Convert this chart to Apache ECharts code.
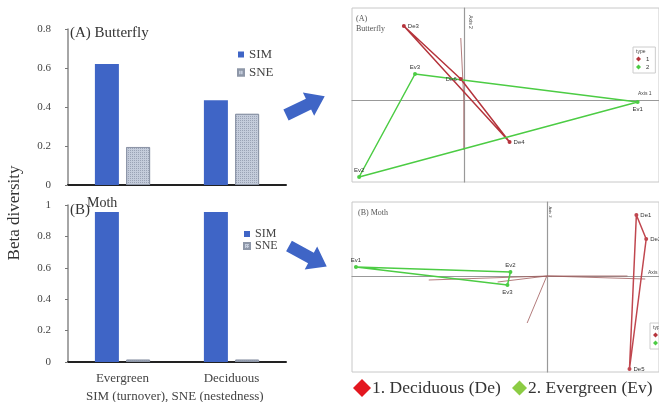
<!DOCTYPE html>
<html>
<head>
<meta charset="utf-8">
<script src="https://cdn.jsdelivr.net/npm/echarts@6/dist/echarts.min.js"></script>
<style>
  html, body { margin: 0; padding: 0; background: #fff; }
  #main { width: 659px; height: 402px; }
</style>
</head>
<body>
<div id="main"></div>
<script>
// bar data
var barCats = ['Evergreen', 'Deciduous'];
var butterflySIM = [0.62, 0.435];
var butterflySNE = [0.195, 0.365];
var mothSIM = [0.955, 0.955];
var mothSNE = [0.015, 0.015];

// ordination scores [name, axis1, axis2]
var butterflyDe = [['De3', -0.59, 0.74], ['De6', -0.03, 0.21], ['De4', 0.45, -0.42]];
var butterflyEv = [['Ev3', -0.48, 0.26], ['Ev1', 1.71, -0.02], ['Ev2', -1.03, -0.77]];
var butterflyVars = [['N_herb', -0.03, 0.62], ['N_tree', 0.0, -0.5]];
var mothDe = [['De1', 0.91, 0.61], ['De2', 1.01, 0.37], ['De5', 0.84, -0.93]];
var mothEv = [['Ev1', -1.94, 0.09], ['Ev2', -0.37, 0.04], ['Ev3', -0.40, -0.09]];
var mothVars = [['DBH', -1.2, -0.04], ['Tree_r', -0.5, -0.06], ['Tree_c', -0.2, -0.47], ['Herb_c', 0.82, 0.0], ['N_herb', 1.0, -0.03]];

var labelPos = {
    A: { De3: 'right', De6: 'left', De4: 'right', Ev3: 'top', Ev1: 'bottom', Ev2: 'top', N_herb: 'left', N_tree: 'bottom' },
    B: { De1: 'right', De2: 'right', De5: 'right', Ev1: 'top', Ev2: 'top', Ev3: 'bottom', DBH: 'bottom', Tree_r: 'left', Tree_c: 'left', Herb_c: 'left', N_herb: 'right' }
};

var serif = '"Liberation Serif", "DejaVu Serif", serif';
var blue = '#3f65c6';

function polygonData(pts, panel) {
    var data = pts.map(function (p) {
        return { name: p[0], value: [p[1], p[2]], label: { position: labelPos[panel][p[0]] || 'right' } };
    });
    data.push({ value: [pts[0][1], pts[0][2]], symbol: 'none', label: { show: false } });
    return data;
}

function polygonSeries(name, pts, panel, axis, color) {
    return {
        name: name,
        type: 'line',
        xAxisIndex: axis,
        yAxisIndex: axis,
        data: polygonData(pts, panel),
        symbol: 'circle',
        symbolSize: 4,
        itemStyle: { color: color },
        lineStyle: { color: color, width: 1.5 },
        label: { show: true, formatter: '{b}', fontSize: 6, color: '#333', distance: 2 },
        z: 3
    };
}

function vectorSeries(vars, panel, axis) {
    return vars.map(function (v) {
        return {
            type: 'line',
            xAxisIndex: axis,
            yAxisIndex: axis,
            symbol: 'none',
            lineStyle: { color: '#a05a5a', width: 0.8 },
            data: [[0, 0], { name: v[0], value: [v[1], v[2]] }],
            label: { show: true, formatter: function (p) { return p.name; }, fontSize: 5, color: '#a03a3a', position: labelPos[panel][v[0]], distance: 2 },
            silent: true,
            z: 2
        };
    });
}

function ordAxis(grid, min, max) {
    return {
        gridIndex: grid, type: 'value', min: min, max: max,
        axisLabel: { show: false }, axisTick: { show: false }, splitLine: { show: false },
        axisLine: { show: true, onZero: true, lineStyle: { color: '#999', width: 1.2 } }
    };
}

function barAxisY(grid, max) {
    return {
        gridIndex: grid, type: 'value', min: 0, max: max, interval: 0.2,
        axisLabel: { fontFamily: serif, fontSize: 11, color: '#444', margin: 17 },
        axisTick: { show: true, length: 3, lineStyle: { color: '#777' } },
        axisLine: { show: true, lineStyle: { color: '#888', width: 1.5 } },
        splitLine: { show: false }
    };
}

function arrow(x, y, rot) {
    return {
        type: 'polygon', x: x, y: y, rotation: rot,
        shape: { points: [[0, -6], [25, -6], [25, -13], [43, 0], [25, 13], [25, 6], [0, 6]] },
        style: { fill: blue }
    };
}

var snePattern = {
    symbol: 'rect', symbolSize: 1, color: 'rgba(120,130,150,0.55)',
    dashArrayX: [1, 1], dashArrayY: [1, 1], rotation: 0
};

var typeNames = { '1': '1. Deciduous (De)', '2': '2. Evergreen (Ev)' };

var dom = document.getElementById('main');
var myChart = echarts.init(dom);

var series = [
    { name: 'SIM', type: 'bar', xAxisIndex: 0, yAxisIndex: 0, data: butterflySIM, barWidth: 24, barGap: '30%', itemStyle: { color: blue } },
    { name: 'SNE', type: 'bar', xAxisIndex: 0, yAxisIndex: 0, data: butterflySNE, barWidth: 24, barGap: '30%', itemStyle: { color: '#c4ccdb', borderColor: '#8e97a8', borderWidth: 1, decal: snePattern } },
    { name: 'SIM', type: 'bar', xAxisIndex: 1, yAxisIndex: 1, data: mothSIM, barWidth: 24, barGap: '30%', itemStyle: { color: blue } },
    { name: 'SNE', type: 'bar', xAxisIndex: 1, yAxisIndex: 1, data: mothSNE, barWidth: 24, barGap: '30%', itemStyle: { color: '#c4ccdb', borderColor: '#8e97a8', borderWidth: 1, decal: snePattern } },
    polygonSeries('1', butterflyDe, 'A', 2, '#b5343c'),
    polygonSeries('2', butterflyEv, 'A', 2, '#4ccc44'),
    polygonSeries('1', mothDe, 'B', 3, '#c0474f'),
    polygonSeries('2', mothEv, 'B', 3, '#4ccc44')
].concat(vectorSeries(butterflyVars, 'A', 2), vectorSeries(mothVars, 'B', 3));

function typeLegend(name, color, left, size) {
    return {
        data: [{ name: name, itemStyle: { color: color } }],
        formatter: function (n) { return typeNames[n]; },
        left: left, top: 379, icon: 'diamond', itemWidth: size, itemHeight: size, padding: 0, selectedMode: false,
        textStyle: { fontFamily: serif, fontSize: 17.5, color: '#333', padding: [0, 0, 0, -4] }
    };
}

var option = {
    animation: false,
    backgroundColor: '#fff',
    grid: [
        { left: 68, top: 29, width: 218, height: 156 },
        { left: 68, top: 205, width: 218, height: 157 },
        { left: 352, top: 8, width: 312, height: 174, show: true, borderColor: '#c8c8c8', borderWidth: 1 },
        { left: 352, top: 202, width: 312, height: 170, show: true, borderColor: '#c8c8c8', borderWidth: 1 }
    ],
    xAxis: [
        { gridIndex: 0, type: 'category', data: barCats, axisLabel: { show: false }, axisTick: { show: false }, axisLine: { lineStyle: { color: '#222', width: 2 } } },
        { gridIndex: 1, type: 'category', data: barCats, axisLabel: { fontFamily: serif, fontSize: 13, color: '#444', margin: 10 }, axisTick: { show: false }, axisLine: { lineStyle: { color: '#222', width: 2 } } },
        ordAxis(2, -1.1, 1.92),
        ordAxis(3, -1.98, 1.14)
    ],
    yAxis: [
        barAxisY(0, 0.8),
        barAxisY(1, 1),
        ordAxis(2, -0.82, 0.92),
        ordAxis(3, -0.96, 0.74)
    ],
    legend: [
        { data: ['SIM', 'SNE'], left: 232, top: 43, orient: 'vertical', icon: 'rect', itemWidth: 6, itemHeight: 6, itemGap: 5, selectedMode: false, textStyle: { fontFamily: serif, fontSize: 13, color: '#444' } },
        { data: ['SIM', 'SNE'], left: 238, top: 223, orient: 'vertical', icon: 'rect', itemWidth: 6, itemHeight: 6, itemGap: 0, selectedMode: false, textStyle: { fontFamily: serif, fontSize: 12, lineHeight: 11, color: '#444' } },
        { data: ['1', '2'], left: 633, top: 47, orient: 'vertical', icon: 'diamond', itemWidth: 5, itemHeight: 5, itemGap: 2, selectedMode: false, padding: [9, 6, 3, 3], borderColor: '#ccc', borderWidth: 1, textStyle: { fontSize: 6, color: '#333' } },
        { data: ['1', '2'], left: 650, top: 323, orient: 'vertical', icon: 'diamond', itemWidth: 5, itemHeight: 5, itemGap: 2, selectedMode: false, padding: [9, 6, 3, 3], borderColor: '#ccc', borderWidth: 1, textStyle: { fontSize: 6, color: '#333' } },
        typeLegend('1', '#e3171f', 353, 18),
        typeLegend('2', '#8ccc44', 512, 15)
    ],
    graphic: [
        { type: 'text', left: 70, top: 26, style: { text: '(A) Butterfly', font: '15px ' + serif, fill: '#333' } },
        { type: 'text', left: 70, top: 203, style: { text: '(B)', font: '15px ' + serif, fill: '#333' } },
        { type: 'text', left: 87, top: 196, style: { text: 'Moth', font: '14px ' + serif, fill: '#333' } },
        { type: 'text', x: 15, y: 213, rotation: Math.PI / 2, style: { text: 'Beta diversity', font: '17px ' + serif, fill: '#333', align: 'center', verticalAlign: 'middle' } },
        { type: 'text', left: 86, top: 390, style: { text: 'SIM (turnover), SNE (nestedness)', font: '13px ' + serif, fill: '#444' } },
        { type: 'text', left: 356, top: 14, style: { text: '(A)\nButterfly', font: '8px ' + serif, fill: '#555', lineHeight: 10 } },
        { type: 'text', x: 470, y: 22, rotation: -Math.PI / 2, style: { text: 'Axis 2', font: '5px sans-serif', fill: '#444', align: 'center', verticalAlign: 'middle' } },
        { type: 'text', left: 638, top: 91, style: { text: 'Axis 1', font: '5px sans-serif', fill: '#444' } },
        { type: 'text', left: 636, top: 49, style: { text: 'type', font: '5px sans-serif', fill: '#444' } },
        { type: 'text', left: 358, top: 209, style: { text: '(B) Moth', font: '8px ' + serif, fill: '#555' } },
        { type: 'text', x: 550, y: 212, rotation: -Math.PI / 2, style: { text: 'Axis 2', font: '4px sans-serif', fill: '#444', align: 'center', verticalAlign: 'middle' } },
        { type: 'text', left: 648, top: 270, style: { text: 'Axis', font: '5px sans-serif', fill: '#444' } },
        { type: 'text', left: 653, top: 325, style: { text: 'type', font: '5px sans-serif', fill: '#444' } },
        arrow(286, 115, 0.45),
        arrow(289, 246, -0.5)
    ],
    series: series
};

if (option && typeof option === 'object') {
    myChart.setOption(option);
    window.addEventListener('resize', function () {
        myChart.resize();
    });
}
</script>
</body>
</html>
